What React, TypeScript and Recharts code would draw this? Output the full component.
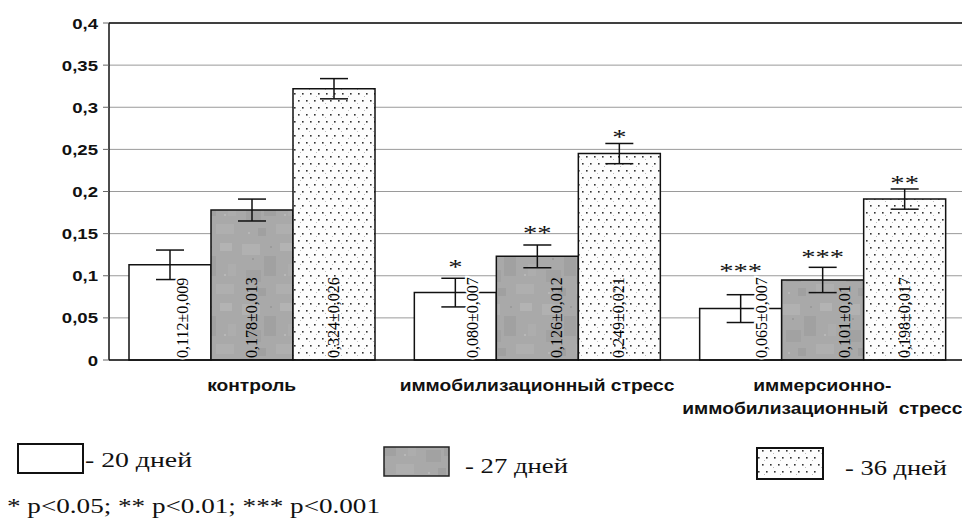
import { BarChart, Bar, XAxis, YAxis, CartesianGrid, ErrorBar, LabelList, ReferenceLine } from 'recharts';

// categories (x axis)
const groups = ['контроль', 'иммобилизационный стресс', 'иммерсионно-\nиммобилизационный  стресс'];

// bar heights as drawn
const days20 = [0.113, 0.08, 0.061];
const days27 = [0.178, 0.123, 0.095];
const days36 = [0.322, 0.245, 0.191];

// error bar half-lengths as drawn
const err20 = [0.0175, 0.017, 0.0165];
const err27 = [0.013, 0.0135, 0.015];
const err36 = [0.012, 0.012, 0.012];

// printed values inside the bars
const text20 = ['0,112±0,009', '0,080±0,007', '0,065±0,007'];
const text27 = ['0,178±0,013', '0,126±0,012', '0,101±0,01'];
const text36 = ['0,324±0,026', '0,249±0,021', '0,198±0,017'];

// significance marks
const stars20 = ['', '*', '***'];
const stars27 = ['', '**', '***'];
const stars36 = ['', '*', '**'];

const yTicks = [0, 0.05, 0.1, 0.15, 0.2, 0.25, 0.3, 0.35, 0.4];

const data = groups.map((g, i) => ({
  group: g,
  d20: days20[i], e20: err20[i],
  d27: days27[i], e27: err27[i],
  d36: days36[i], e36: err36[i],
}));

const SANS = '"Liberation Sans", Arial, sans-serif';
const SERIF = '"Liberation Serif", "Times New Roman", serif';

const series = [
  { key: 'd20', err: 'e20', values: days20, errs: err20, texts: text20, stars: stars20, fill: '#ffffff', halo: true, labelDx: [13, 18, 21], starGap: [0, 15, 28] },
  { key: 'd27', err: 'e27', values: days27, errs: err27, texts: text27, stars: stars27, fill: 'url(#mottle)', halo: false, labelDx: [0, 20, 22], starGap: [0, 16, 14] },
  { key: 'd36', err: 'e36', values: days36, errs: err36, texts: text36, stars: stars36, fill: 'url(#dots)', halo: false, labelDx: [0, 0, 0], starGap: [0, 10, 10] },
];

const fmt = (v: number) => String(v).replace('.', ',');

function box(props: any) {
  const vb = props.viewBox ?? props;
  return { x: Number(vb.x), y: Number(vb.y), w: Number(vb.width), h: Number(vb.height) };
}

function ValueTick({ x, y, payload }: any) {
  return (
    <g transform={`translate(${x},${y}) scale(1.24,1)`}>
      <text x={0} y={0} dy={5.5} textAnchor="end" fontFamily={SANS} fontWeight="bold" fontSize={15} fill="#111">
        {fmt(payload.value)}
      </text>
    </g>
  );
}

function GroupTick({ x, y, payload }: any) {
  const lines = String(payload.value).split('\n');
  return (
    <g transform={`translate(${x},${y}) scale(1.2,1)`}>
      {lines.map((l, i) => (
        <text key={i} x={0} y={0} dy={23 + i * 23} textAnchor="middle" fontFamily={SANS} fontWeight="bold" fontSize={16} fill="#111" style={{ whiteSpace: 'pre' }}>
          {l}
        </text>
      ))}
    </g>
  );
}

function makeValueLabel(s: typeof series[number]) {
  return (props: any) => {
    const i = Number(props.index ?? 0);
    const b = box(props);
    const cx = b.x + b.w / 2 + s.labelDx[i] + 5;
    const by = b.y + b.h - 2;
    return (
      <text
        x={cx}
        y={by}
        transform={`rotate(-90 ${cx} ${by})`}
        fontFamily={SERIF}
        fontSize={16}
        fill="#000"
        stroke={s.halo ? '#fff' : 'none'}
        strokeWidth={s.halo ? 4 : 0}
        style={{ paintOrder: 'stroke' }}
      >
        {s.texts[i]}
      </text>
    );
  };
}

function makeStarLabel(s: typeof series[number]) {
  return (props: any) => {
    const i = Number(props.index ?? 0);
    if (!s.stars[i]) return null;
    const b = box(props);
    const perUnit = b.h / s.values[i];
    const errTop = b.y - s.errs[i] * perUnit;
    const cx = b.x + b.w / 2;
    const cy = errTop - s.starGap[i];
    return (
      <g transform={`translate(${cx},${cy}) scale(1.3,1)`}>
        <text x={0} y={11} textAnchor="middle" fontFamily={SERIF} fontSize={22} fill="#111">
          {s.stars[i]}
        </text>
      </g>
    );
  };
}

function Patterns() {
  return (
    <svg width={0} height={0} style={{ position: 'absolute' }}>
      <defs>
        <pattern id="mottle" width={60} height={60} patternUnits="userSpaceOnUse">
          <rect width={60} height={60} fill="#a9a9a9" />
          <rect x={2} y={4} width={18} height={11} fill="#b1b1b1" />
          <rect x={24} y={16} width={12} height={20} fill="#a1a1a1" />
          <rect x={40} y={3} width={12} height={8} fill="#b3b3b3" />
          <rect x={6} y={30} width={15} height={12} fill="#a2a2a2" />
          <rect x={36} y={44} width={18} height={10} fill="#afafaf" />
          <rect x={18} y={48} width={8} height={8} fill="#a0a0a0" />
          <rect x={48} y={24} width={8} height={12} fill="#adadad" />
          <rect x={12} y={18} width={2} height={2} fill="#9a9a9a" />
          <rect x={44} y={34} width={2} height={2} fill="#b8b8b8" />
          <rect x={30} y={6} width={2} height={2} fill="#9b9b9b" />
          <rect x={8} y={52} width={2} height={2} fill="#b7b7b7" />
        </pattern>
        <pattern id="dots" width={16} height={14} patternUnits="userSpaceOnUse">
          <rect width={16} height={14} fill="#fdfdfd" />
          <rect x={2} y={2} width={1.6} height={1.6} fill="#333" />
          <rect x={10} y={2} width={1.6} height={1.6} fill="#333" />
          <rect x={6} y={9} width={1.6} height={1.6} fill="#333" />
          <rect x={14} y={9} width={1.6} height={1.6} fill="#333" />
          <rect x={5} y={5} width={1} height={1} fill="#bbb" />
          <rect x={12} y={12} width={1} height={1} fill="#bbb" />
        </pattern>
      </defs>
    </svg>
  );
}

function LegendAndNote() {
  return (
    <svg width={962} height={521} style={{ position: 'absolute', left: 0, top: 0, pointerEvents: 'none' }}>
      <rect x={18} y={444} width={65} height={29} fill="#fff" stroke="#111" strokeWidth={2} />
      <text x={85} y={467} fontFamily={SERIF} fontSize={20} fill="#111" textLength={107} lengthAdjust="spacingAndGlyphs">- 20 дней</text>
      <rect x={384} y={447} width={65} height={29} fill="url(#mottle)" stroke="#222" strokeWidth={1.5} />
      <text x={465} y={473} fontFamily={SERIF} fontSize={21} fill="#111" textLength={103} lengthAdjust="spacingAndGlyphs">- 27 дней</text>
      <rect x={757} y={448} width={66} height={31} fill="url(#dots)" stroke="#111" strokeWidth={2} />
      <text x={845} y={475} fontFamily={SERIF} fontSize={21} fill="#111" textLength={102} lengthAdjust="spacingAndGlyphs">- 36 дней</text>
      <text x={7} y={513} fontFamily={SERIF} fontSize={21} fill="#111" textLength={373} lengthAdjust="spacingAndGlyphs">* p&lt;0.05; ** p&lt;0.01; *** p&lt;0.001</text>
    </svg>
  );
}

export default function App() {
  return (
    <div style={{ position: 'absolute', left: 0, top: 0, width: 962, height: 521, overflow: 'hidden', background: '#fff' }}>
      <Patterns />
      <BarChart width={965} height={430} data={data} margin={{ top: 23, right: 0, left: 0, bottom: 10 }} barGap={0} barSize={82}>
        <CartesianGrid vertical={false} stroke="#9a9a9a" strokeWidth={1} />
        <XAxis dataKey="group" height={60} tickLine={false} axisLine={{ stroke: '#111', strokeWidth: 1.5 }} tick={<GroupTick />} interval={0} />
        <YAxis
          width={109}
          domain={[0, 0.4]}
          ticks={yTicks}
          interval={0}
          tickSize={6}
          tickMargin={5}
          tickLine={{ stroke: '#666' }}
          axisLine={{ stroke: '#111', strokeWidth: 1.5 }}
          tick={<ValueTick />}
        />
        <ReferenceLine y={0.4} stroke="#111" strokeWidth={1.5} />
        {series.map((s) => (
          <Bar key={s.key} dataKey={s.key} fill={s.fill} stroke="#111" strokeWidth={1.5} isAnimationActive={false}>
            <ErrorBar dataKey={s.err} width={14} stroke="#111" strokeWidth={1.5} direction="y" />
            <LabelList dataKey={s.key} content={makeValueLabel(s)} />
            <LabelList dataKey={s.key} content={makeStarLabel(s)} />
          </Bar>
        ))}
      </BarChart>
      <LegendAndNote />
    </div>
  );
}
